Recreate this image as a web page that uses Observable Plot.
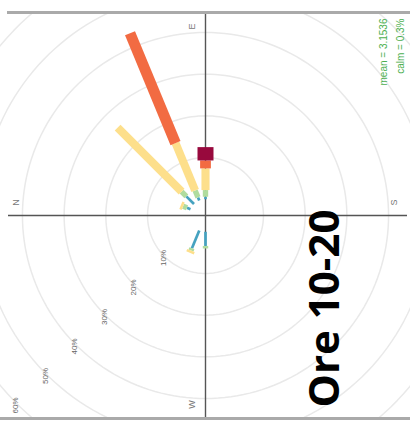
<!DOCTYPE html>
<html>
<head>
<meta charset="utf-8">
<script src="https://cdn.jsdelivr.net/npm/d3@7"></script>
<script src="https://cdn.jsdelivr.net/npm/@observablehq/plot@0.6"></script>
<style>
  body { margin: 0; background: #fff; }
  #chart svg { display: block; }
</style>
</head>
<body>
<div id="chart"></div>
<script>
// Wind directions (degrees, clockwise from the top of the panel)
const directions = [0, 180, 202.5, 292.5, 315, 337.5];

// Frequency (%) contributed by each wind-speed interval, per direction
const bin1 = [0.6, 3.4, 4.6, 0.9, 2.6, 0.8];
const bin2 = [1.6, 0.6, 0.6, 1.0, 1.6, 1.8];
const bin3 = [5.2, 0.0, 0.6, 0.6, 21.7, 12.3];
const bin4 = [1.9, 0.0, 0.0, 0.0, 0.0, 28.5];
const bin5 = [3.2, 0.0, 0.0, 0.0, 0.0, 0.0];
const bins = [bin1, bin2, bin3, bin4, bin5];

// Paddle colours and widths, one per speed interval
const binColors = ["#45a2c0", "#b0dc9e", "#fddf8b", "#f26b42", "#98093d"];
const binWidths = [2.7, 5.4, 8.1, 10.8, 16];

// Frequency grid
const ringPcts = [10, 20, 30, 40, 50, 60];
const ringLabels = ["10%", "20%", "30%", "40%", "50%", "60%"];
const labelAngle = 225;

// Compass labels (panel is turned a quarter turn)
const vertLabels = ["E", "W"];
const vertAngles = [0, 180];
const horizLabels = ["N", "S"];
const horizAngles = [270, 90];
const compassRadius = 45.3;

// Summary statistics
const statsLabels = ["mean = 3.1536", "calm = 0.3%"];

const title = "Ore 10-20";

// radial offset of the calm hole, in % units
const offset = 3.9;
const pxPerPct = 4.17;

const rad = a => a * Math.PI / 180;
const polarX = (a, r) => r * Math.sin(rad(a));
const polarY = (a, r) => r * Math.cos(rad(a));

// Paddle segments built from the stacked intervals
const segments = [];
directions.forEach((dir, i) => {
  let cum = 0;
  bins.forEach((b, j) => {
    const v = b[i];
    if (v > 0) {
      const r1 = offset + cum, r2 = offset + cum + v;
      segments.push({dir, bin: j,
        x1: polarX(dir, r1), y1: polarY(dir, r1),
        x2: polarX(dir, r2), y2: polarY(dir, r2)});
    }
    cum += v;
  });
});

// Grid circles
const ringPts = [];
ringPcts.forEach(p => {
  for (let a = 0; a <= 360; a += 2) {
    ringPts.push({ring: p, x: polarX(a, offset + p), y: polarY(a, offset + p)});
  }
});

const W = 410, H = 426, mTop = 12, mBottom = 8;
const halfX = (W / 2) / pxPerPct;
const halfY = ((H - mTop - mBottom) / 2) / pxPerPct;

const chart = Plot.plot({
  width: W,
  height: H,
  marginTop: mTop,
  marginBottom: mBottom,
  marginLeft: 0,
  marginRight: 0,
  x: {domain: [-halfX, halfX], axis: null},
  y: {domain: [-halfY, halfY], axis: null},
  style: {fontFamily: "'Liberation Sans', Arial, sans-serif", background: "#fff"},
  marks: [
    Plot.line(ringPts, {x: "x", y: "y", z: "ring", stroke: "#e9e9e9", strokeWidth: 1.5, clip: true}),
    Plot.ruleY([0], {stroke: "#555", strokeWidth: 1.4, insetLeft: 8, insetRight: 3}),
    Plot.ruleX([0], {stroke: "#555", strokeWidth: 1.4}),
    Plot.link(segments, {
      x1: "x1", y1: "y1", x2: "x2", y2: "y2",
      stroke: d => binColors[d.bin],
      strokeWidth: d => binWidths[d.bin],
      strokeLinecap: "butt"
    }),
    Plot.text(ringPcts, {
      x: p => polarX(labelAngle, offset + p + 0.5),
      y: p => polarY(labelAngle, offset + p + 0.5),
      text: (p, i) => ringLabels[i],
      rotate: -90, fontSize: 8, fill: "#666"
    }),
    Plot.text(vertAngles, {
      x: a => polarX(a, compassRadius), y: a => polarY(a, compassRadius),
      text: (a, i) => vertLabels[i], dx: -13,
      rotate: -90, fontSize: 9, fill: "#777"
    }),
    Plot.text(horizAngles, {
      x: a => polarX(a, compassRadius), y: a => polarY(a, compassRadius),
      text: (a, i) => horizLabels[i], dy: -13,
      rotate: -90, fontSize: 9, fill: "#777"
    }),
    Plot.text([statsLabels[0]], {frameAnchor: "top-right", dx: -27, dy: 6, rotate: -90,
      textAnchor: "end", lineAnchor: "middle", fontSize: 10, fill: "#4caf50"}),
    Plot.text([statsLabels[1]], {frameAnchor: "top-right", dx: -10, dy: 6, rotate: -90,
      textAnchor: "end", lineAnchor: "middle", fontSize: 10, fill: "#4caf50"}),
    Plot.text([title], {frameAnchor: "right", dx: -85, dy: 93, rotate: -90,
      textAnchor: "middle", lineAnchor: "middle",
      fontSize: 42, fontWeight: "bold", fill: "#000",
      fontFamily: "'Open Sans', 'Liberation Sans', sans-serif"}),
    Plot.frame({anchor: "top", stroke: "#aaa", strokeWidth: 3, insetLeft: 8}),
    Plot.frame({anchor: "bottom", stroke: "#aaa", strokeWidth: 3})
  ]
});

document.getElementById("chart").appendChild(chart);
</script>
</body>
</html>
